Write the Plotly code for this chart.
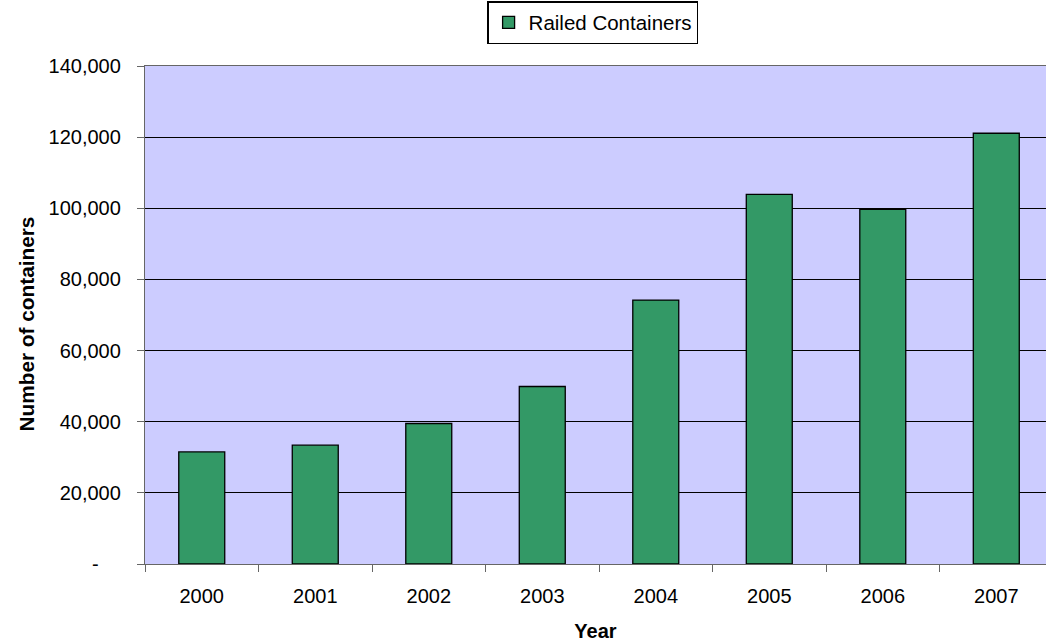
import plotly.graph_objects as go

years = ["2000", "2001", "2002", "2003", "2004", "2005", "2006", "2007"]
railed = [31500, 33400, 39500, 49900, 74200, 103900, 99700, 121100]
y_ticks = [0, 20000, 40000, 60000, 80000, 100000, 120000, 140000]
y_ticktext = ["-\u00a0\u00a0\u00a0\u00a0", "20,000", "40,000", "60,000", "80,000",
              "100,000", "120,000", "140,000"]

FONT = "Liberation Sans, Arial, sans-serif"

fig = go.Figure()
fig.add_trace(go.Bar(
    x=years, y=railed, name="Railed Containers",
    marker=dict(color="#339966", line=dict(color="#000000", width=1.3)),
    showlegend=True,
))

fig.update_layout(
    width=1046, height=642,
    margin=dict(l=145, r=0, t=66, b=78, autoexpand=False),
    paper_bgcolor="white",
    plot_bgcolor="#CCCCFF",
    font=dict(family=FONT, size=20, color="black"),
    bargap=0.595,
    showlegend=True,
    legend=dict(
        orientation="h", x=0.497, xanchor="center", y=1.13, yanchor="top",
        bordercolor="black", borderwidth=1.3, bgcolor="white",
        font=dict(family=FONT, size=20.5, color="black"),
        itemwidth=30,
    ),
    xaxis=dict(
        type="category",
        range=[-0.5, 7.438],
        title=dict(text="<b>Year</b>", font=dict(family=FONT, size=20), standoff=18),
        showline=True, linecolor="#666666", linewidth=1.3, mirror=True,
        ticks="outside", ticklen=7, tickcolor="#666666", tickson="boundaries",
        ticklabelstandoff=14,
        showgrid=False,
    ),
    yaxis=dict(
        range=[0, 140000],
        tickvals=y_ticks, ticktext=y_ticktext,
        showline=True, linecolor="#666666", linewidth=1.3,
        ticks="outside", ticklen=7, tickcolor="#666666",
        ticklabelstandoff=12,
        showgrid=True, gridcolor="#000000", gridwidth=1.2,
        zeroline=False,
    ),
    annotations=[dict(
        text="<b>Number of containers</b>", textangle=-90,
        xref="paper", yref="paper", x=-0.132, y=0.481,
        xanchor="center", yanchor="middle", showarrow=False,
        font=dict(family=FONT, size=20.8, color="black"),
    )],
)

fig.write_html("out.html")
